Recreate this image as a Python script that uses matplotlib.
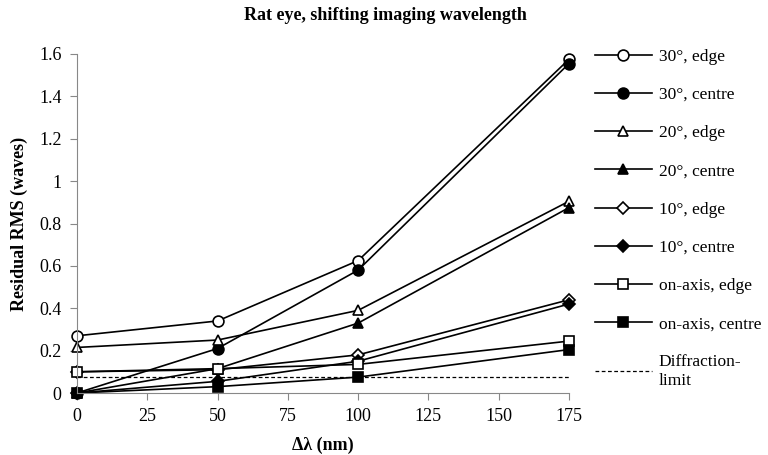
import matplotlib
matplotlib.use("Agg")
import matplotlib.pyplot as plt

plt.rcParams['font.family'] = ['Liberation Serif', 'DejaVu Serif']

x = [0, 50, 100, 175]
edge30 = [0.27, 0.34, 0.625, 1.575]
centre30 = [0.0, 0.21, 0.58, 1.555]
edge20 = [0.215, 0.25, 0.39, 0.905]
centre20 = [0.0, 0.115, 0.33, 0.875]
edge10 = [0.10, 0.11, 0.18, 0.44]
centre10 = [0.0, 0.055, 0.15, 0.42]
edge0 = [0.10, 0.115, 0.135, 0.245]
centre0 = [0.0, 0.03, 0.075, 0.205]
diffraction = [0.075, 0.075, 0.075, 0.075]

series = [
    ("30°, edge", edge30, 'o', 'white'),
    ("30°, centre", centre30, 'o', 'black'),
    ("20°, edge", edge20, '^', 'white'),
    ("20°, centre", centre20, '^', 'black'),
    ("10°, edge", edge10, 'D', 'white'),
    ("10°, centre", centre10, 'D', 'black'),
    ("on-axis, edge", edge0, 's', 'white'),
    ("on-axis, centre", centre0, 's', 'black'),
]

fig = plt.figure(figsize=(7.68, 4.55), dpi=100)
ax = fig.add_axes([77/768, 1-393/455, (569-77)/768, (393-54)/455])

for label, y, m, fc in series:
    ms = 6.5 if m == 'D' else 7.8
    ax.plot(x, y, color='black', lw=1.2, marker=m, markersize=ms,
            markerfacecolor=fc, markeredgecolor='black', markeredgewidth=1.2,
            label=label)
ax.plot(x, diffraction, color='black', lw=0.9, ls=(0, (3, 2)), label="Diffraction-\nlimit")

ax.set_xlim(0, 175)
ax.set_ylim(0, 1.6)
ax.set_xticks([0, 25, 50, 75, 100, 125, 150, 175])
ax.set_yticks([0, 0.2, 0.4, 0.6, 0.8, 1.0, 1.2, 1.4, 1.6])
ax.set_yticklabels(['0', '0.2', '0.4', '0.6', '0.8', '1', '1.2', '1.4', '1.6'])
for s in ['top', 'right']:
    ax.spines[s].set_visible(False)
for s in ['left', 'bottom']:
    ax.spines[s].set_color('#888888')
ax.tick_params(direction='out', length=5, color='#888888', labelsize=13, pad=6)
for l in ax.lines:
    l.set_clip_on(False)

ax.set_xlabel("Δλ (nm)", fontsize=13, fontweight='bold', labelpad=8)
ax.set_ylabel("Residual RMS (waves)", fontsize=13, fontweight='bold', labelpad=8)
fig.text(385/768, 1-15/455, "Rat eye, shifting imaging wavelength", fontsize=13,
         fontweight='bold', ha='center', va='center')

leg = ax.legend(loc='upper left', bbox_to_anchor=(579/768, 1-33/455),
                bbox_transform=fig.transFigure, frameon=False, fontsize=12.5,
                handlelength=3.3, labelspacing=1.27, handletextpad=0.4)

fig.savefig("out.png", dpi=100)
